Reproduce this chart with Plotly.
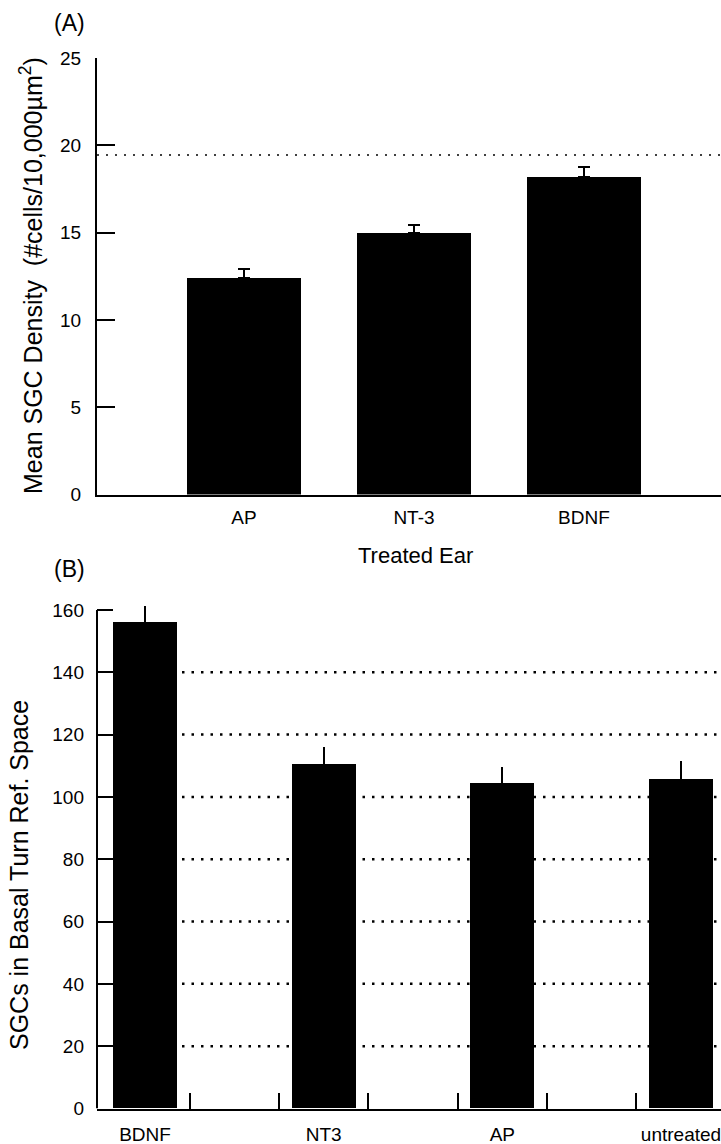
import plotly.graph_objects as go

# ---- Panel A data ----
a_categories = ["AP", "NT-3", "BDNF"]
a_means = [12.4, 15.0, 18.2]
a_errors = [0.5, 0.45, 0.57]
a_reference_level = 19.45
a_yticks = [0, 5, 10, 15, 20, 25]

# ---- Panel B data ----
b_categories = ["BDNF", "NT3", "AP", "untreated"]
b_means = [156.0, 110.6, 104.2, 105.7]
b_errors = [5.4, 5.5, 5.4, 5.8]
b_gridlines = [20, 40, 60, 80, 100, 120, 140]
b_yticks = [0, 20, 40, 60, 80, 100, 120, 140, 160]
b_xminor = [0.25, 0.75, 1.25, 1.75, 2.25, 2.75]

FONT = "Liberation Sans, Arial, Helvetica, sans-serif"
W, H = 721, 1144

fig = go.Figure()

a_x = list(range(len(a_categories)))
b_x = list(range(len(b_categories)))

fig.add_trace(go.Bar(
    x=a_x, y=a_means, width=0.676, marker=dict(color="black", line=dict(width=0)),
    error_y=dict(type="data", symmetric=False, array=a_errors, arrayminus=[0] * len(a_errors),
                 color="black", thickness=2, width=6),
    xaxis="x", yaxis="y", showlegend=False, cliponaxis=False,
))

fig.add_trace(go.Bar(
    x=b_x, y=b_means, width=0.358, marker=dict(color="black", line=dict(width=0)),
    error_y=dict(type="data", symmetric=False, array=b_errors, arrayminus=[0] * len(b_errors),
                 color="black", thickness=2, width=0),
    xaxis="x2", yaxis="y2", showlegend=False, cliponaxis=False,
))

xdom = [97 / W, 1.0]
a_ydom = [1 - 494.5 / H, 1 - 58 / H]
b_ydom = [1 - 1108.5 / H, 1 - 594.4 / H]

tickfont = dict(family=FONT, size=19, color="black")

fig.update_layout(
    template="none",
    width=W, height=H,
    margin=dict(l=0, r=0, t=0, b=0, autoexpand=False),
    paper_bgcolor="white", plot_bgcolor="white",
    font=dict(family=FONT, color="black"),
    bargap=0,
    xaxis=dict(domain=xdom, anchor="y", range=[-0.8647, 2.806], automargin=False,
               tickmode="array", tickvals=a_x, ticktext=a_categories, ticks="",
               showline=True, linecolor="black", linewidth=2, showgrid=False,
               zeroline=False, tickfont=tickfont, ticklabelstandoff=5,
               ticklabeloverflow="allow"),
    yaxis=dict(domain=a_ydom, anchor="x", range=[0, 25], automargin=False,
               tickmode="array", tickvals=a_yticks, ticks="inside", ticklen=18,
               tickwidth=1.5, tickcolor="black",
               showline=True, linecolor="black", linewidth=2, showgrid=False,
               zeroline=False, tickfont=tickfont, ticklabelstandoff=10,
               ticklabeloverflow="allow"),
    xaxis2=dict(domain=xdom, anchor="y2", range=[-0.2687, 3.2239], automargin=False,
                tickmode="array", tickvals=b_x, ticktext=b_categories, ticks="",
                minor=dict(tickmode="array", tickvals=b_xminor, ticks="inside",
                           ticklen=16, tickwidth=1.5, tickcolor="black", showgrid=False),
                showline=True, linecolor="black", linewidth=2, showgrid=False,
                zeroline=False, tickfont=tickfont, ticklabelstandoff=8,
                ticklabeloverflow="allow"),
    yaxis2=dict(domain=b_ydom, anchor="x2", range=[0, 165], automargin=False,
                tickmode="array", tickvals=b_yticks, ticks="inside", ticklen=16,
                tickwidth=2, tickcolor="black",
                showline=False, showgrid=False,
                zeroline=False, tickfont=tickfont, ticklabelstandoff=12,
                ticklabeloverflow="allow"),
)

shapes = []
# Panel A reference (untreated) level
shapes.append(dict(type="line", xref="x domain", yref="y", x0=0, x1=1,
                   y0=a_reference_level, y1=a_reference_level,
                   line=dict(color="black", width=1.5, dash="2px,7px"), layer="below"))
# Panel B y axis line from 0 to 160
shapes.append(dict(type="line", xref="x2 domain", yref="y2", x0=0, x1=0,
                   y0=0, y1=b_yticks[-1], line=dict(color="black", width=2)))
# Panel B dotted gridlines
for g in b_gridlines:
    shapes.append(dict(type="line", xref="x2", yref="y2", x0=0.207, x1=3.2239,
                       y0=g, y1=g, line=dict(color="black", width=2.5, dash="2.5px,7px"),
                       layer="below"))
fig.update_layout(shapes=shapes)

annotations = [
    dict(text="(A)", x=52 / W, y=1 - 23 / H, xref="paper", yref="paper",
         xanchor="left", yanchor="middle", showarrow=False,
         font=dict(family=FONT, size=23, color="black")),
    dict(text="(B)", x=52 / W, y=1 - 569 / H, xref="paper", yref="paper",
         xanchor="left", yanchor="middle", showarrow=False,
         font=dict(family=FONT, size=23, color="black")),
    dict(text="Mean SGC Density  (#cells/10,000\u00b5m<sup>2</sup>)", x=31 / W, y=1 - 276 / H,
         xref="paper", yref="paper", xanchor="center", yanchor="middle",
         textangle=-90, showarrow=False, font=dict(family=FONT, size=25, color="black")),
    dict(text="Treated Ear", x=415 / W, y=1 - 555 / H, xref="paper", yref="paper",
         xanchor="center", yanchor="middle", showarrow=False,
         font=dict(family=FONT, size=22, color="black")),
    dict(text="SGCs in Basal Turn Ref. Space", x=19 / W, y=1 - 875 / H,
         xref="paper", yref="paper", xanchor="center", yanchor="middle",
         textangle=-90, showarrow=False, font=dict(family=FONT, size=25, color="black")),
]
fig.update_layout(annotations=annotations)

fig.write_html("out.html",
               config={"displayModeBar": False},
               post_script="document.body.style.margin='0px';document.body.style.overflow='hidden';")
